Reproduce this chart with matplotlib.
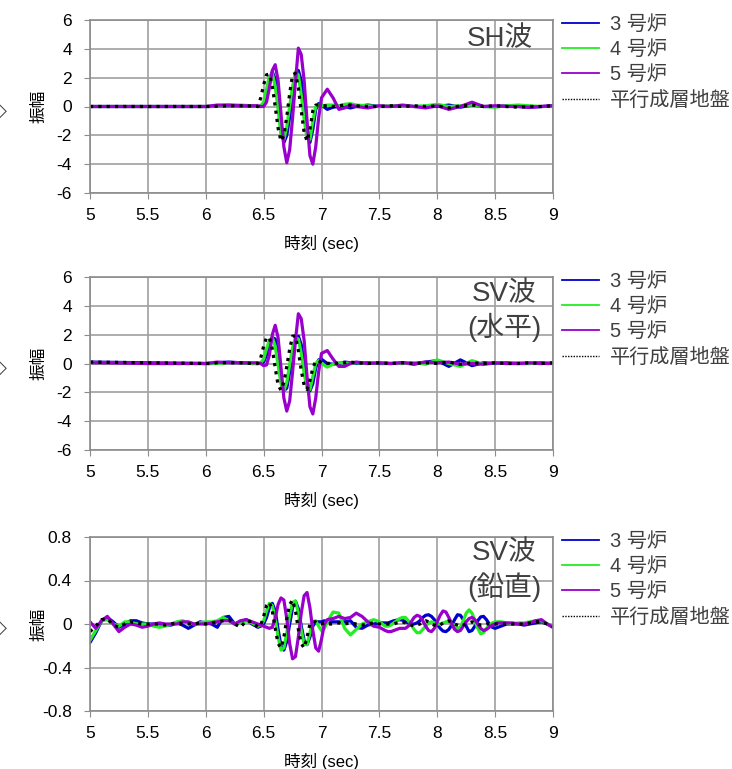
import matplotlib
matplotlib.use('Agg')
import matplotlib.pyplot as plt
from matplotlib.lines import Line2D
from matplotlib.ticker import FormatStrFormatter

plt.rcParams['font.family'] = ['Liberation Sans', 'Noto Sans CJK JP']

# time axis for the two horizontal-wave panels
t_hz = [5.0, 5.5, 6.0, 6.05, 6.1, 6.2, 6.3, 6.4,
        6.45, 6.475, 6.5, 6.525, 6.55, 6.575, 6.6, 6.625, 6.65, 6.675, 6.7, 6.725, 6.75, 6.775,
        6.8, 6.825, 6.85, 6.875, 6.9, 6.925, 6.95, 6.975, 7.0,
        7.05, 7.1, 7.15, 7.2, 7.25, 7.3,
        7.4, 7.5, 7.6, 7.7, 7.8, 7.9, 8.0, 8.1, 8.2, 8.3, 8.4, 8.5, 8.6, 8.7, 8.8, 8.9, 9.0]

# SH wave
sh_u3 = [0, 0, 0, 0, 0.05, 0.05, 0.05, 0.05,
         0.0, 0.0, 0.1, 0.8, 1.9, 2.4, 1.9, 0.4, -1.5, -2.5, -2.0, -0.7, 0.8, 2.1,
         2.5, 1.8, 0.2, -1.6, -2.5, -1.6, -0.2, 0.2, 0.1,
         -0.2, -0.05, 0.0, 0.0, -0.1, 0.0,
         0.1, 0.0, 0.0, 0.05, 0.0, 0.0, 0.0, 0.1, -0.05, 0.1, 0.0, 0.0, 0.05, 0.0, -0.05, 0.0, 0.05]
sh_u4 = [0, 0, 0, 0.02, 0.05, 0.1, 0.1, 0.05,
         0.0, 0.05, 0.3, 1.2, 2.1, 2.3, 1.4, -0.2, -2.0, -2.3, -1.4, 0.0, 1.4, 2.4,
         2.2, 0.8, -0.9, -2.2, -2.3, -1.0, 0.0, 0.1, 0.05,
         0.1, 0.1, 0.05, 0.15, 0.2, 0.1,
         0.05, 0.0, 0.05, 0.05, 0.0, 0.05, 0.15, 0.0, 0.05, 0.1, 0.0, -0.05, 0.05, 0.1, 0.05, 0.0, 0.0]
sh_u5 = [0, 0, 0, 0.05, 0.1, 0.1, 0.05, 0.05,
         0.05, 0.0, 0.0, 0.3, 1.3, 2.5, 2.9, 1.8, -0.5, -2.8, -3.9, -3.0, -0.8, 1.7,
         4.05, 3.6, 1.8, -1.0, -3.4, -4.0, -2.8, -0.8, 0.6,
         1.2, 0.6, -0.2, -0.1, 0.1, 0.0,
         -0.1, 0.05, 0.0, 0.1, 0.0, -0.1, 0.05, -0.2, 0.0, 0.3, 0.0, 0.05, 0.0, 0.0, -0.05, 0.0, 0.05]
sh_gr = [0, 0, 0, 0, 0.02, 0.05, 0.05, 0.03,
         0.0, 0.6, 1.5, 2.2, 2.25, 1.4, 0.0, -1.5, -2.4, -2.0, -0.7, 0.9, 2.2, 2.3,
         1.3, -0.3, -1.8, -2.4, -1.6, -0.3, 0.1, 0.1, 0.05,
         0.05, 0.0, 0.05, 0.1, 0.1, 0.05,
         0.0, 0.0, 0.05, 0.0, 0.05, 0.0, 0.05, -0.1, 0.05, 0.1, 0.0, 0.05, 0.0, -0.05, 0.0, 0.0, 0.05]

# SV wave, horizontal
svh_u3 = [0.1, 0.05, 0.0, 0.0, 0.05, 0.1, 0.05, 0.0,
          0.0, 0.0, 0.1, 0.6, 1.3, 1.8, 1.7, 0.6, -1.0, -1.9, -1.7, -0.6, 0.6, 1.6,
          1.9, 1.3, 0.0, -1.3, -1.9, -1.4, -0.3, 0.25, 0.3,
          0.0, -0.05, 0.0, 0.1, 0.05, 0.0,
          0.05, 0.0, 0.0, 0.05, -0.05, 0.1, 0.2, -0.2, 0.25, -0.15, 0.05, 0.0, 0.05, 0.0, 0.0, 0.05, 0.0]
svh_u4 = [0.05, 0.0, 0.0, 0.0, 0.0, 0.05, 0.05, 0.0,
          0.0, 0.05, 0.3, 1.0, 1.6, 1.8, 1.2, -0.1, -1.4, -1.9, -1.3, -0.1, 1.1, 1.8,
          1.7, 0.7, -0.7, -1.7, -1.8, -0.9, 0.0, 0.2, 0.0,
          -0.25, -0.05, 0.05, 0.05, 0.0, 0.05,
          0.0, 0.05, 0.0, 0.0, 0.05, -0.05, 0.25, 0.0, -0.2, 0.2, -0.05, 0.05, 0.0, 0.05, 0.0, 0.0, 0.05]
svh_u5 = [0.05, 0.0, 0.0, 0.05, 0.1, 0.05, 0.05, 0.05,
          0.05, 0.0, -0.15, -0.1, 0.6, 2.0, 2.65, 1.8, -0.3, -2.4, -3.3, -2.6, -0.6, 1.6,
          3.45, 3.1, 1.6, -0.9, -3.0, -3.5, -2.4, -0.6, 0.7,
          0.9, 0.3, -0.2, -0.2, 0.0, 0.1,
          0.0, 0.05, 0.0, 0.05, 0.0, 0.1, 0.05, 0.1, -0.05, 0.0, -0.05, 0.05, 0.0, 0.0, 0.05, 0.0, 0.0]
svh_gr = [0.1, 0.05, 0.0, 0.0, 0.05, 0.05, 0.05, 0.0,
          0.0, 0.4, 1.2, 1.8, 1.8, 1.0, -0.3, -1.5, -1.85, -1.3, -0.2, 1.0, 1.9, 1.9,
          0.9, -0.5, -1.5, -1.8, -1.2, -0.3, 0.15, 0.2, 0.05,
          0.0, 0.05, 0.0, 0.05, 0.1, 0.05,
          0.0, 0.05, 0.0, 0.05, 0.0, 0.05, 0.0, 0.1, -0.05, 0.05, 0.0, 0.05, 0.0, 0.0, 0.05, 0.0, 0.05]

# SV wave, vertical (finer sampling)
t_vt = [5.0, 5.05, 5.1, 5.15, 5.2, 5.25, 5.3, 5.35, 5.4, 5.45,
        5.5, 5.55, 5.6, 5.65, 5.7, 5.75, 5.8, 5.85, 5.9, 5.95,
        6.0, 6.05, 6.1, 6.15, 6.2, 6.25, 6.3, 6.35, 6.4, 6.45,
        6.475, 6.5, 6.525, 6.55, 6.575, 6.6, 6.625, 6.65, 6.675, 6.7,
        6.725, 6.75, 6.775, 6.8, 6.825, 6.85, 6.875, 6.9, 6.925, 6.95,
        6.975, 7.0, 7.025, 7.05,
        7.1, 7.15, 7.2, 7.25, 7.3, 7.35, 7.4, 7.45, 7.5,
        7.55, 7.575, 7.6, 7.625, 7.65, 7.675, 7.7, 7.725, 7.75, 7.775,
        7.8, 7.825, 7.85, 7.875, 7.9, 7.925, 7.95, 7.975, 8.0, 8.025,
        8.05, 8.075, 8.1, 8.125, 8.15, 8.175, 8.2, 8.225, 8.25, 8.275,
        8.3, 8.325, 8.35, 8.375, 8.4, 8.425, 8.45, 8.475, 8.5, 8.525,
        8.55,
        8.6, 8.65, 8.7, 8.75, 8.8, 8.85, 8.9, 8.95, 9.0]
svv_u3 = [-0.17, -0.08, 0.03, 0.06, 0.02, -0.03, 0.0, 0.03, 0.03, 0.01,
          0.0, 0.0, 0.0, -0.01, -0.01, 0.01, -0.01, -0.04, -0.01, 0.02,
          0.01, 0.0, -0.03, 0.06, 0.07, 0.0, 0.02, 0.04, 0.0, -0.03,
          -0.02, 0.0, 0.06, 0.15, 0.19, 0.12, -0.05, -0.2, -0.24, -0.16,
          0.0, 0.15, 0.21, 0.14, -0.02, -0.15, -0.19, -0.12, -0.02, 0.02,
          0.02, 0.02, 0.03, 0.02,
          0.02, 0.02, 0.02, 0.03, -0.03, -0.04, -0.01, 0.0, 0.01,
          0.01, 0.01, 0.02, 0.03, 0.035, 0.04, 0.035, 0.02, 0.01, 0.0,
          0.0, 0.01, 0.03, 0.06, 0.08, 0.085, 0.07, 0.04, 0.0, -0.04,
          -0.065, -0.07, -0.05, -0.01, 0.04, 0.085, 0.08, 0.04, -0.02, -0.07,
          -0.06, -0.02, 0.03, 0.065, 0.07, 0.04, 0.0, -0.03, -0.04, -0.03,
          -0.02,
          0.0, 0.0, 0.0, -0.01, 0.0, 0.01, 0.02, 0.0, -0.03]
svv_u4 = [-0.15, -0.06, 0.03, 0.04, 0.0, -0.02, 0.02, 0.02, 0.0, 0.0,
          0.0, -0.02, -0.03, -0.02, 0.0, 0.02, 0.03, 0.01, 0.0, 0.01,
          0.02, 0.02, 0.03, 0.06, 0.03, 0.0, 0.01, 0.03, 0.01, -0.02,
          -0.01, 0.03, 0.12, 0.19, 0.17, 0.05, -0.12, -0.24, -0.22, -0.08,
          0.08, 0.2, 0.21, 0.1, -0.06, -0.18, -0.19, -0.08, 0.02, 0.03,
          -0.02, -0.06, -0.04, 0.02,
          0.11, 0.1, -0.04, -0.1, -0.05, 0.0, 0.02, 0.04, 0.02,
          -0.02, -0.02, -0.01, 0.01, 0.03, 0.05, 0.06, 0.06, 0.03, -0.01,
          -0.05, -0.08, -0.08, -0.05, -0.02, 0.01, 0.02, 0.01, 0.0, 0.0,
          0.01, 0.02, 0.02, 0.0, -0.02, -0.04, -0.03, 0.03, 0.1, 0.13,
          0.1, 0.03, -0.04, -0.09, -0.08, -0.04, -0.01, 0.01, 0.02, 0.02,
          0.02,
          0.01, 0.0, 0.01, 0.01, 0.02, 0.03, 0.03, 0.0, -0.02]
svv_u5 = [0.02, -0.04, 0.03, 0.07, 0.0, -0.07, -0.03, 0.0, -0.01, -0.03,
          -0.02, 0.0, 0.01, 0.0, 0.0, 0.0, 0.02, 0.02, 0.0, 0.0,
          0.0, 0.01, 0.02, 0.03, 0.03, 0.0, 0.03, 0.04, 0.02, 0.0,
          -0.01, -0.02, -0.03, -0.04, -0.03, 0.05, 0.18, 0.24, 0.22, 0.05,
          -0.18, -0.32, -0.3, -0.12, 0.1, 0.26, 0.29, 0.15, -0.06, -0.22,
          -0.25, -0.14, 0.0, 0.04,
          0.05, 0.07, 0.05, 0.06, 0.1, 0.07, 0.02, -0.02, -0.03,
          -0.06, -0.07, -0.07, -0.06, -0.05, -0.04, -0.04, -0.04, -0.02, 0.02,
          0.06, 0.08, 0.07, 0.03, -0.02, -0.06, -0.07, -0.04, 0.02, 0.08,
          0.12, 0.11, 0.06, 0.0, -0.05, -0.07, -0.06, -0.02, 0.02, 0.05,
          0.06, 0.04, 0.0, -0.04, -0.06, -0.05, -0.03, -0.01, 0.0, 0.01,
          0.01,
          0.01, 0.01, 0.0, 0.0, 0.01, 0.03, 0.04, 0.0, -0.03]
svv_gr = [-0.07, -0.02, 0.04, 0.05, -0.01, -0.03, 0.0, 0.02, 0.01, 0.0,
          0.0, 0.0, 0.0, -0.01, 0.0, 0.01, 0.0, 0.0, 0.0, 0.01,
          0.0, 0.01, 0.02, 0.03, 0.04, 0.0, -0.03, 0.03, 0.02, -0.03,
          -0.01, 0.07, 0.17, 0.2, 0.12, -0.04, -0.18, -0.22, -0.12, 0.05,
          0.18, 0.22, 0.12, -0.05, -0.18, -0.22, -0.12, 0.0, 0.02, 0.02,
          0.0, 0.0, 0.01, 0.0,
          0.0, 0.01, 0.0, 0.01, 0.0, -0.01, 0.0, 0.01, 0.0,
          0.0, 0.0, 0.0, 0.0, 0.01, 0.015, 0.02, 0.01, 0.0, -0.01,
          -0.02, -0.01, 0.0, 0.02, 0.03, 0.02, 0.0, -0.01, -0.02, -0.01,
          0.01, 0.02, 0.03, 0.02, 0.0, -0.01, -0.02, -0.01, 0.0, 0.01,
          0.02, 0.01, 0.0, -0.01, -0.01, 0.0, 0.0, 0.0, 0.0, 0.0,
          0.0,
          0.0, 0.0, 0.0, 0.0, 0.01, 0.02, 0.02, 0.0, -0.02]

labels = ['3 号炉', '4 号炉', '5 号炉', '平行成層地盤']
colors = ['#0000cc', '#22ee22', '#9900cc']
titles = ['SH波', 'SV波\n(水平)', 'SV波\n(鉛直)']

W, H = 732, 769
fig = plt.figure(figsize=(W / 100, H / 100), dpi=100)

# axes boxes in pixels: (top, bottom)
boxes = [(20, 193), (277, 450), (537, 711)]
left, right = 90, 553

panels = [
    (t_hz, [sh_u3, sh_u4, sh_u5], sh_gr, 6, [-6, -4, -2, 0, 2, 4, 6], (0.886, 0.888)),
    (t_hz, [svh_u3, svh_u4, svh_u5], svh_gr, 6, [-6, -4, -2, 0, 2, 4, 6], (0.895, 0.800)),
    (t_vt, [svv_u3, svv_u4, svv_u5], svv_gr, 0.8, [-0.8, -0.4, 0, 0.4, 0.8], (0.895, 0.802)),
]

gray = '#8c8c8c'
for i, (t, units, ground, ymax, yt, tpos) in enumerate(panels):
    top, bot = boxes[i]
    ax = fig.add_axes([left / W, 1 - bot / H, (right - left) / W, (bot - top) / H])
    for y, c in zip(units, colors):
        ax.plot(t, y, color=c, lw=2.3, solid_joinstyle='round', solid_capstyle='round')
    ax.plot(t, ground, color='black', lw=2.3, linestyle=(0, (1, 1.6)))

    ax.set_xlim(5, 9)
    ax.set_ylim(-ymax, ymax)
    ax.set_xticks([5, 5.5, 6, 6.5, 7, 7.5, 8, 8.5, 9])
    ax.set_yticks(yt)
    ax.xaxis.set_major_formatter(FormatStrFormatter('%g'))
    ax.yaxis.set_major_formatter(FormatStrFormatter('%g'))
    ax.grid(True, color='#a0a0a0', lw=1.2)
    ax.set_axisbelow(True)
    for s in ax.spines.values():
        s.set_color(gray)
        s.set_linewidth(1.2)
    ax.tick_params(axis='x', direction='out', length=4, color=gray, labelsize=12.5, pad=7)
    ax.tick_params(axis='y', direction='out', length=4, color=gray, labelsize=12.5, pad=9)

    ax.text(0.5, -0.29, '時刻 (sec)', transform=ax.transAxes, ha='center', va='center', fontsize=12)
    ax.text(-0.11, 0.5, '振幅', transform=ax.transAxes, ha='center', va='center',
            rotation=90, fontsize=12)
    ax.text(tpos[0], tpos[1], titles[i], transform=ax.transAxes, ha='center', va='center',
            fontsize=20, color='#404040', linespacing=1.25, multialignment='center')

    handles = [Line2D([], [], color=c, lw=1.3) for c in colors]
    handles.append(Line2D([], [], color='black', lw=1.0, linestyle=(0, (1, 1))))
    ax.legend(handles, labels, loc='upper left', bbox_to_anchor=(1.019, 1.027),
              frameon=False, fontsize=14.5, handlelength=1.85, handletextpad=0.55,
              labelspacing=0.3, borderaxespad=0, borderpad=0, labelcolor='#404040')

    fig.text(0.0, 1 - ((top + bot) / 2 + 4) / H, '◇', ha='center', va='center',
             fontsize=13, color='#333333', family='DejaVu Sans')

fig.savefig('out.png', dpi=100)
